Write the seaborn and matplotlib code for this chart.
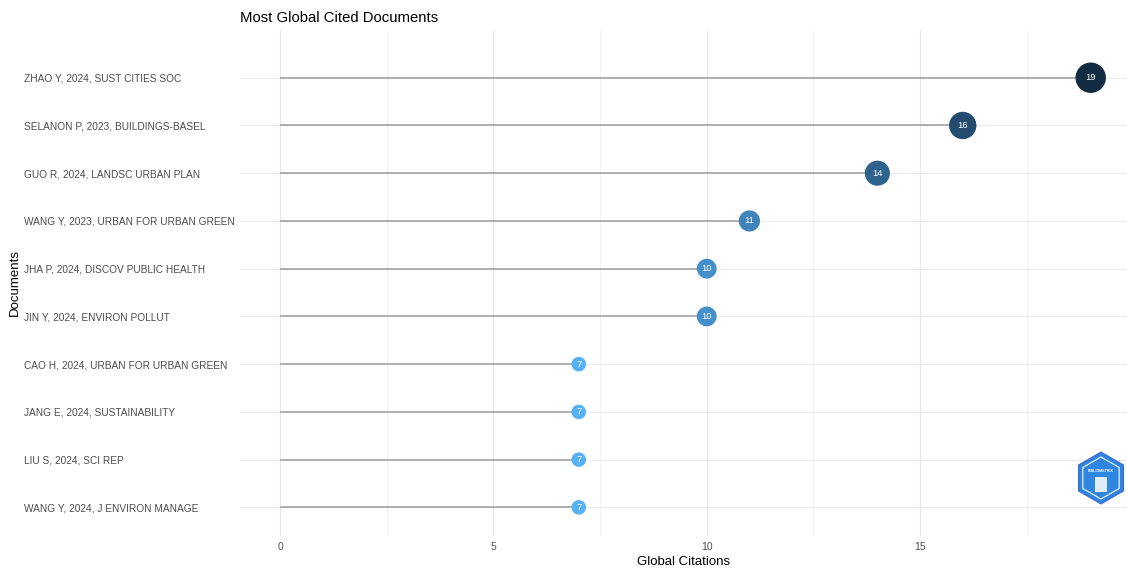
import matplotlib
matplotlib.use("Agg")
import matplotlib.pyplot as plt
import seaborn as sns
import pandas as pd
import numpy as np
from matplotlib.colors import LinearSegmentedColormap
from matplotlib.patches import RegularPolygon

documents = [
    "ZHAO Y, 2024, SUST CITIES SOC",
    "SELANON P, 2023, BUILDINGS-BASEL",
    "GUO R, 2024, LANDSC URBAN PLAN",
    "WANG Y, 2023, URBAN FOR URBAN GREEN",
    "JHA P, 2024, DISCOV PUBLIC HEALTH",
    "JIN Y, 2024, ENVIRON POLLUT",
    "CAO H, 2024, URBAN FOR URBAN GREEN",
    "JANG E, 2024, SUSTAINABILITY",
    "LIU S, 2024, SCI REP",
    "WANG Y, 2024, J ENVIRON MANAGE",
]
citations = [19, 16, 14, 11, 10, 10, 7, 7, 7, 7]
x_ticks = [0, 5, 10, 15]

df = pd.DataFrame({"doc": documents, "cites": citations})
df["pos"] = np.arange(len(df))

sns.set_theme(style="white")
plt.rcParams["font.family"] = ["Liberation Sans", "DejaVu Sans"]

fig = plt.figure(figsize=(11.27, 5.70), dpi=100)
ax = fig.add_axes([240 / 1127, 1 - 536 / 570, (1127 - 240) / 1127, (536 - 30) / 570])

cmap = LinearSegmentedColormap.from_list("gg", ["#56B1F7", "#132B43"])

# grid
for xv in [2.5, 7.5, 12.5, 17.5]:
    ax.axvline(xv, color="#f0f0f0", lw=0.6, zorder=0)
for xv in x_ticks:
    ax.axvline(xv, color="#e8e8e8", lw=0.9, zorder=0)
for p in df["pos"]:
    ax.axhline(p, color="#ebebeb", lw=0.9, zorder=0)

ax.hlines(df["pos"], 0, df["cites"], color="#a3a3a3", lw=1.2, zorder=1)

sns.scatterplot(data=df, x="cites", y="pos", hue="cites", palette=cmap,
                hue_norm=(7, 19), size="cites", sizes=(110, 480),
                size_norm=(7, 19), legend=False, edgecolor="none",
                ax=ax, zorder=2)

for c, p in zip(df["cites"], df["pos"]):
    ax.text(c, p, str(c), color="white", fontsize=6.8, ha="center",
            va="center", zorder=3)

ax.set_xlim(-0.94, 19.85)
ax.set_ylim(9.6, -1.0)
ax.set_xticks(x_ticks)
ax.set_xticklabels([str(v) for v in x_ticks])
ax.set_yticks(df["pos"])
ax.set_yticklabels(df["doc"])
for lbl in ax.get_yticklabels():
    lbl.set_horizontalalignment("left")
ax.tick_params(axis="y", length=0, pad=155.5, labelsize=7.3, labelcolor="#4d4d4d")
ax.tick_params(axis="x", length=0, pad=4, labelsize=7.5, labelcolor="#4d4d4d")
for s in ax.spines.values():
    s.set_visible(False)
ax.set_xlabel("Global Citations", fontsize=9.5, color="black", labelpad=3)
ax.set_ylabel("Documents", fontsize=9.5, color="black", labelpad=2)
ax.set_title("Most Global Cited Documents", fontsize=10.7, loc="left",
             color="black", pad=6)

# logo
lax = fig.add_axes([(1101 - 30) / 1127, (570 - 478 - 30) / 570, 60 / 1127, 60 / 570])
lax.set_xlim(-1, 1)
lax.set_ylim(-1, 1)
lax.set_aspect("equal")
lax.axis("off")
lax.add_patch(RegularPolygon((0, 0), 6, radius=0.86, orientation=0,
                             facecolor="#2f86e0", edgecolor="#3a6fd8", lw=1))
lax.add_patch(RegularPolygon((0, 0), 6, radius=0.70, orientation=0,
                             facecolor="none", edgecolor="white", lw=0.8))
lax.text(0, 0.22, "BIBLIOMETRIX", color="white", fontsize=2.6,
         ha="center", va="center", fontweight="bold")
lax.add_patch(plt.Rectangle((-0.2, -0.45), 0.4, 0.5, facecolor="white",
                            edgecolor="none", alpha=0.85))

fig.savefig("out.png", dpi=100)
